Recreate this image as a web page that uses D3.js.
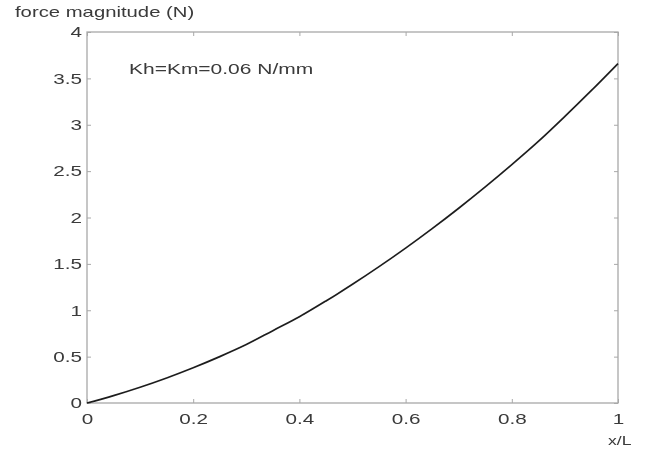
<!DOCTYPE html>
<html>
<head>
<meta charset="utf-8">
<script src="https://cdn.jsdelivr.net/npm/d3@7"></script>
<style>
  html, body { margin: 0; padding: 0; background: #fff; }
  svg { display: block; }
  text { font-family: "Liberation Sans", Arial, sans-serif; }
</style>
</head>
<body>
<svg id="chart" width="649" height="456"></svg>
<script>
// Position along the beam (x/L) and the resulting force magnitude (N)
const xPos = [0, 0.05, 0.1, 0.15, 0.2, 0.25, 0.3, 0.35, 0.4, 0.45, 0.5,
              0.55, 0.6, 0.65, 0.7, 0.75, 0.8, 0.85, 0.9, 0.95, 1.0];
const force = [0, 0.08, 0.17, 0.27, 0.38, 0.50, 0.63, 0.78, 0.93, 1.10, 1.28,
               1.47, 1.67, 1.88, 2.10, 2.33, 2.57, 2.82, 3.09, 3.37, 3.66];
const xTicks = [0, 0.2, 0.4, 0.6, 0.8, 1];
const yTicks = [0, 0.5, 1, 1.5, 2, 2.5, 3, 3.5, 4];
const yLabel = "force magnitude (N)";
const xLabel = "x/L";
const note = "Kh=Km=0.06 N/mm";

const svg = d3.select("#chart");

// Slight softening, as in a scanned figure
svg.append("defs").append("filter").attr("id", "soft")
  .attr("x", "-5%").attr("y", "-5%").attr("width", "110%").attr("height", "110%")
  .append("feGaussianBlur").attr("stdDeviation", 0.55);

const root = svg.append("g").attr("filter", "url(#soft)");

const m = { left: 87, right: 618, top: 32, bottom: 403 };

const x = d3.scaleLinear().domain([0, 1]).range([m.left, m.right]);
const y = d3.scaleLinear().domain([0, 4]).range([m.bottom, m.top]);

const axisColor = "#a8a8a8";
const textColor = "#3a3a3a";
const tickLen = 4;
const stretch = 1.38; // wide lettering

// Stretch a text element horizontally about its own anchor point
function widen(sel, factor) {
  sel.each(function () {
    const t = d3.select(this);
    const ax = +t.attr("x") || 0;
    t.attr("transform", `translate(${ax},0) scale(${factor},1) translate(${-ax},0)`);
  });
}

// Plot box
root.append("rect")
  .attr("x", m.left).attr("y", m.top)
  .attr("width", m.right - m.left).attr("height", m.bottom - m.top)
  .attr("fill", "none").attr("stroke", axisColor).attr("stroke-width", 1.3);

// Bottom axis with inward ticks
const gx = root.append("g").attr("transform", `translate(0,${m.bottom})`)
  .call(d3.axisBottom(x).tickValues(xTicks).tickSize(-tickLen).tickPadding(10)
    .tickFormat(d => d3.format("")(d)));
gx.select(".domain").remove();
gx.selectAll("line").attr("stroke", axisColor);
gx.selectAll("text").attr("font-size", 15).attr("fill", textColor).call(widen, stretch);

// Top axis ticks
const gxt = root.append("g").attr("transform", `translate(0,${m.top})`)
  .call(d3.axisTop(x).tickValues(xTicks).tickSize(-tickLen).tickFormat(""));
gxt.select(".domain").remove();
gxt.selectAll("line").attr("stroke", axisColor);

// Left axis with inward ticks
const gy = root.append("g").attr("transform", `translate(${m.left},0)`)
  .call(d3.axisLeft(y).tickValues(yTicks).tickSize(-tickLen).tickPadding(5)
    .tickFormat(d => d3.format("")(d)));
gy.select(".domain").remove();
gy.selectAll("line").attr("stroke", axisColor);
gy.selectAll("text").attr("font-size", 15).attr("fill", textColor).call(widen, stretch);

// Right axis ticks
const gyr = root.append("g").attr("transform", `translate(${m.right},0)`)
  .call(d3.axisRight(y).tickValues(yTicks).tickSize(-tickLen).tickFormat(""));
gyr.select(".domain").remove();
gyr.selectAll("line").attr("stroke", axisColor);

// Force curve
const line = d3.line().x((d, i) => x(xPos[i])).y(d => y(d)).curve(d3.curveCatmullRom);
root.append("path").datum(force)
  .attr("d", line)
  .attr("fill", "none").attr("stroke", "#1e1e1e").attr("stroke-width", 1.7);

// Labels
root.append("text").attr("x", 15).attr("y", 17).attr("font-size", 14)
  .attr("fill", textColor).text(yLabel).call(widen, 1.45);
root.append("text").attr("x", 608).attr("y", 445).attr("font-size", 13)
  .attr("fill", textColor).text(xLabel).call(widen, 1.35);
root.append("text").attr("x", 129).attr("y", 74).attr("font-size", 14)
  .attr("fill", textColor).text(note).call(widen, 1.5);
</script>
</body>
</html>
